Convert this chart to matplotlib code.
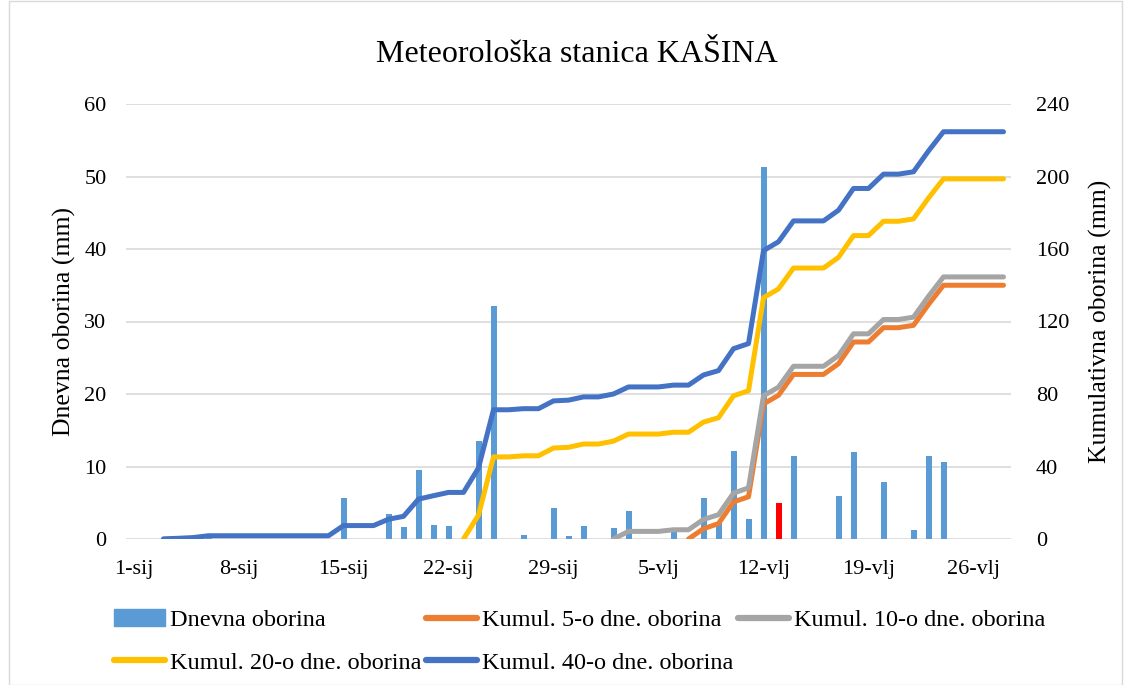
import matplotlib
matplotlib.use("Agg")
import matplotlib.pyplot as plt
from matplotlib.patches import Rectangle
import numpy as np

plt.rcParams["font.family"] = ["Liberation Serif", "DejaVu Serif"]

# ---- data ----
n_days = 59  # 1-sij .. 28-vlj
tick_days = [0, 7, 14, 21, 28, 35, 42, 49, 56]
tick_labels = ["1-sij", "8-sij", "15-sij", "22-sij", "29-sij", "5-vlj", "12-vlj", "19-vlj", "26-vlj"]

daily = [0, 0, 0.1, 0.2, 0.2, 0.3, 0, 0, 0, 0, 0, 0, 0, 0,
         5.6, 0, 0, 3.5, 1.6, 9.5, 1.9, 1.8, 0, 13.5, 32.1, 0, 0.6, 0,
         4.3, 0.4, 1.8, 0, 1.55, 3.9, 0, 0, 1.0, 0, 5.65, 2.4, 12.1, 2.8,
         51.3, 4.9, 11.5, 0, 0, 5.9, 12.0, 0, 7.9, 0, 1.3, 11.5, 10.6, 0, 0, 0, 0]
highlight_day = 43

kum40 = [0.1, 0.4, 0.8, 1.8, 1.8, 1.8, 1.8, 1.8, 1.8, 1.8, 1.8, 1.8,
         7.4, 7.4, 7.4, 10.9, 12.5, 22.0, 23.9, 25.7, 25.7, 39.2, 71.3, 71.3,
         71.9, 71.9, 76.2, 76.6, 78.4, 78.4, 80.0, 83.9, 83.9, 83.9, 84.9, 84.9,
         90.5, 92.9, 105.0, 107.8, 159.1, 164.0, 175.5, 175.5, 175.5, 181.4,
         193.4, 193.4, 201.3, 201.3, 202.6, 214.1, 224.7, 224.7, 224.7, 224.7, 224.7]
kum20 = [0, 13.2, 45.3, 45.3, 45.9, 45.9, 50.2, 50.6, 52.4, 52.4, 54.0, 57.9,
         57.9, 57.9, 58.9, 58.9, 64.5, 66.9, 79.0, 81.8, 133.1, 138.0, 149.5,
         149.5, 149.5, 155.4, 167.4, 167.4, 175.3, 175.3, 176.6, 188.1, 198.7,
         198.7, 198.7, 198.7, 198.7]
kum10 = [0, 4.2, 4.2, 4.2, 5.1, 5.1, 10.8, 13.4, 25.3, 28.2, 79.0, 83.8, 95.3,
         95.3, 95.3, 101.2, 113.2, 113.2, 121.1, 121.1, 122.4, 133.9, 144.6,
         144.6, 144.6, 144.6, 144.6]
kum5 = [0, 5.7, 8.5, 20.5, 23.3, 74.5, 79.3, 90.8, 90.8, 90.8, 96.7, 108.7,
        108.7, 116.6, 116.6, 117.9, 129.4, 140.0, 140.0, 140.0, 140.0, 140.0]

labels = ["Dnevna oborina", "Kumul. 5-o dne. oborina", "Kumul. 10-o dne. oborina",
          "Kumul. 20-o dne. oborina", "Kumul. 40-o dne. oborina"]
title = "Meteorološka stanica KAŠINA"


def pad(series):
    return np.concatenate([np.full(n_days - len(series), np.nan), np.array(series, float)])


# ---- figure ----
W, H = 1131, 685
fig = plt.figure(figsize=(W / 100, H / 100), dpi=100)

# outer chart border
fig.patches.append(Rectangle((9 / W, 0.5 / H), (W - 18) / W, (H - 1) / H,
                             transform=fig.transFigure, fill=False,
                             edgecolor="#D9D9D9", linewidth=1.0))

left, right, top, bottom = 126, 1011, 104, 539
ax = fig.add_axes([left / W, 1 - bottom / H, (right - left) / W, (bottom - top) / H])
ax2 = ax.twinx()

x = np.arange(n_days)
colors = ["#5B9BD5"] * n_days
colors[highlight_day] = "#FF0000"
bars = ax.bar(x, daily, width=0.4, color=colors, zorder=2)

ax.set_xlim(-0.5, n_days - 0.5)
ax.set_ylim(0, 60)
ax.set_yticks(np.arange(0, 61, 10))
ax2.set_ylim(0, 240)
ax2.set_yticks(np.arange(0, 241, 40))
ax.set_xticks(tick_days)
ax.set_xticklabels(tick_labels)

ax.grid(axis="y", color="#D9D9D9", linewidth=1.2, zorder=0)
ax.set_axisbelow(True)
for a in (ax, ax2):
    for s in a.spines.values():
        s.set_visible(False)
    a.tick_params(length=0, labelsize=16)
ax.tick_params(axis="y", pad=14)
ax.tick_params(axis="x", pad=15)
ax2.tick_params(axis="y", pad=18)

line_colors = ["#ED7D31", "#A5A5A5", "#FFC000", "#4472C4"]
handles = [bars]
for series, c in zip([kum5, kum10, kum20, kum40], line_colors):
    (ln,) = ax2.plot(x, pad(series), color=c, linewidth=3.6,
                     solid_capstyle="round", solid_joinstyle="round", zorder=3)
    handles.append(ln)

ax.set_ylabel("Dnevna oborina (mm)", fontsize=18.5, labelpad=6)
ax2.set_ylabel("Kumulativna oborina (mm)", fontsize=18.5, labelpad=14)

fig.text(577 / W, 1 - 55 / H, title, fontsize=23, ha="center", va="center")

# legend in row-major order (3 columns)
order = [0, 3, 1, 4, 2]
legend_handles = []
for i in order:
    if i == 0:
        h = Rectangle((0, 0), 1, 1, color="#5B9BD5")
    else:
        h = plt.Line2D([0], [0], color=line_colors[i - 1], linewidth=4.5,
                       solid_capstyle="round")
    legend_handles.append(h)
fig.legend(legend_handles, [labels[i] for i in order], ncol=3,
           loc="upper left", bbox_to_anchor=(114 / W, 1 - 609 / H),
           frameon=False, fontsize=17.5, handlelength=2.1, handletextpad=0.2,
           columnspacing=0.2, labelspacing=0.85, borderpad=0, borderaxespad=0)

fig.savefig("out.png", dpi=100)
